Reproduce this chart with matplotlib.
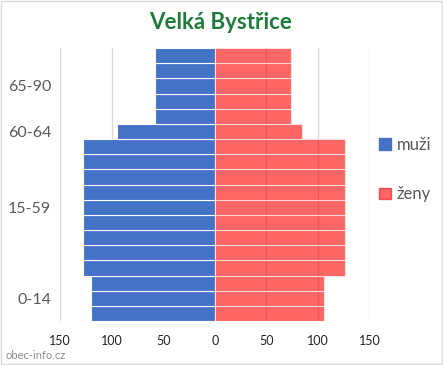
import matplotlib
matplotlib.use("Agg")
import matplotlib.pyplot as plt
from matplotlib.patches import Rectangle

plt.rcParams['font.family'] = ['Lato', 'DejaVu Sans']

title = "Velká Bystřice"
series_names = ["muži", "ženy"]
# one value per row, bottom (youngest) to top (oldest)
men = [120, 120, 120,
       128, 128, 128, 128, 128, 128, 128, 128, 128,
       95,
       58, 58, 58, 58, 58]
women = [106, 106, 106,
         126, 126, 126, 126, 126, 126, 126, 126, 126,
         85,
         74, 74, 74, 74, 74]
group_labels = ["0-14", "15-59", "60-64", "65-90"]
group_rows = [3, 9, 1, 5]
x_ticks = [-150, -100, -50, 0, 50, 100, 150]

fig = plt.figure(figsize=(4.43, 3.65), dpi=100)
ax = fig.add_axes([0.136, 0.1205, 0.698, 0.748])

rows = list(range(len(men)))
ax.barh(rows, [-m for m in men], height=1.0, color="#4472C4",
        edgecolor="white", linewidth=0.8, zorder=2)
ax.barh(rows, women, height=1.0, color="#FF0000", alpha=0.6,
        edgecolor="white", linewidth=0.8, zorder=2)

ax.set_xlim(-150, 150)
ax.set_ylim(-0.5, len(men) - 0.5)
ax.set_xticks(x_ticks)
ax.set_xticklabels([str(abs(t)) for t in x_ticks])
ax.xaxis.grid(True, color="#D9D9D9", linewidth=1.0, zorder=0)
ax.set_axisbelow(True)

centers = []
start = 0
for n in group_rows:
    centers.append(start + (n - 1) / 2)
    start += n
ax.set_yticks(centers)
ax.set_yticklabels(group_labels)

for s in ax.spines.values():
    s.set_visible(False)
ax.tick_params(axis="x", length=0, pad=10, labelsize=9, labelcolor="#222222")
ax.tick_params(axis="y", length=0, pad=6.5, labelsize=11.5, labelcolor="#595959")

fig.text(0.498, 0.937, title, ha="center", va="center", fontsize=16,
         fontweight="bold", color="#1E7B3A")

h1 = Rectangle((0, 0), 1, 1, color="#4472C4")
h2 = Rectangle((0, 0), 1, 1, color="#FF0000", alpha=0.6)
leg = fig.legend([h1, h2], series_names, loc="center left",
                 bbox_to_anchor=(0.822, 0.535), frameon=False, fontsize=12,
                 handlelength=0.7, handleheight=0.7, handletextpad=0.35,
                 labelspacing=2.0)
for t in leg.get_texts():
    t.set_color("#595959")

fig.text(0.012, 0.027, "obec-info.cz", ha="left", va="center", fontsize=8,
         color="#8C8C8C")

border = Rectangle((0.002, 0.002), 0.996, 0.996, transform=fig.transFigure,
                   fill=False, edgecolor="#D9D9D9", linewidth=1.0)
fig.patches.append(border)

fig.savefig("out.png", dpi=100)
